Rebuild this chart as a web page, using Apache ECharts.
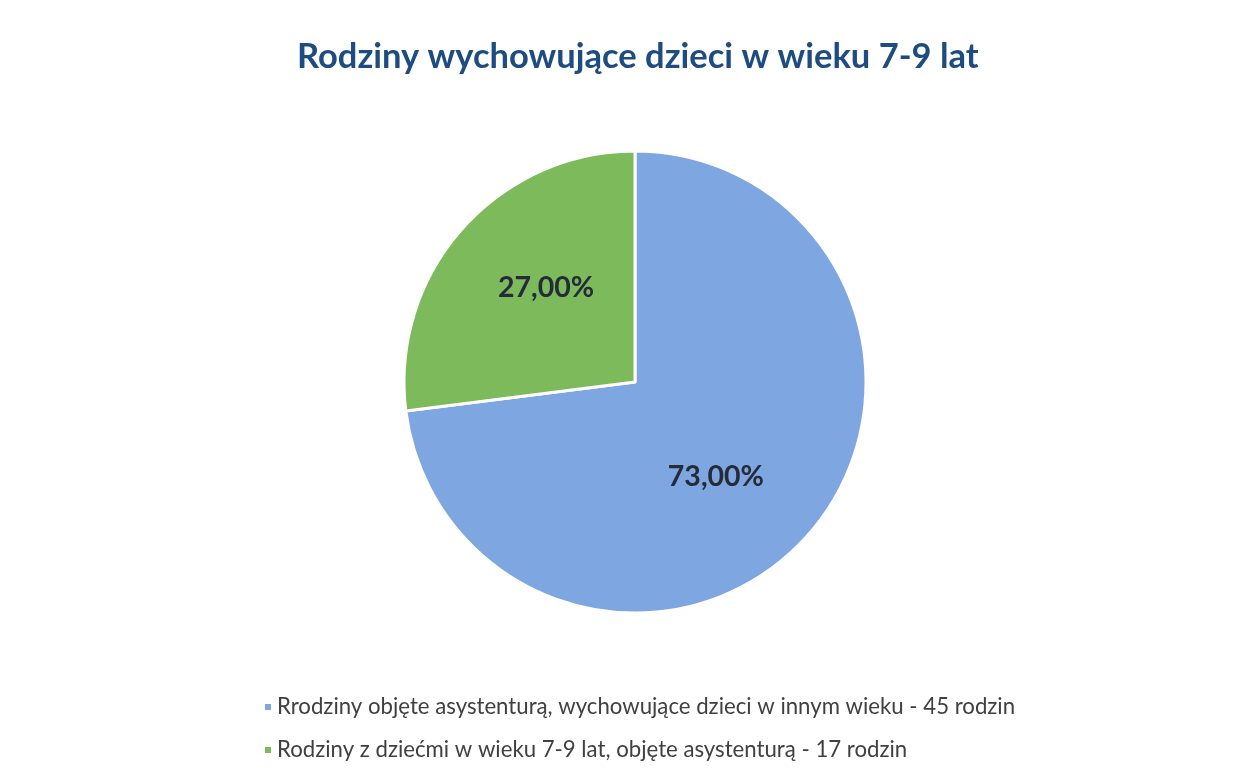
<!DOCTYPE html>
<html>
<head>
<meta charset="utf-8">
<title>Rodziny wychowujące dzieci w wieku 7-9 lat</title>
<script src="https://cdn.jsdelivr.net/npm/echarts@6/dist/echarts.min.js"></script>
<style>
  html, body { margin: 0; padding: 0; background: #fff; }
  #chart { width: 1243px; height: 778px; }
</style>
</head>
<body>
<div id="chart"></div>
<script>
// dane wykresu
const categories = [
  'Rrodziny objęte asystenturą, wychowujące dzieci w innym wieku - 45 rodzin',
  'Rodziny z dziećmi w wieku 7-9 lat, objęte asystenturą - 17 rodzin'
]
const shares = [73, 27]
const colors = ['#7ea6e0', '#7dba5b']

const pct = v => v.toFixed(2).replace('.', ',') + '%'

const chart = echarts.init(document.getElementById('chart'))

const option = {
  backgroundColor: '#ffffff',
  title: {
    text: 'Rodziny wychowujące dzieci w wieku 7-9 lat',
    left: 292,
    top: 34,
    textStyle: { fontFamily: 'Lato', fontWeight: 'bold', fontSize: 34.5, color: '#1f4c80' }
  },
  legend: {
    orient: 'vertical',
    left: 258,
    top: 691,
    itemWidth: 8,
    itemHeight: 8,
    itemGap: 21,
    icon: 'rect',
    textStyle: { fontFamily: 'Lato', fontSize: 22.2, color: '#404040' },
    data: categories
  },
  series: [{
    type: 'pie',
    center: [635, 382],
    radius: [0, 231],
    startAngle: 90,
    clockwise: true,
    avoidLabelOverlap: false,
    itemStyle: { borderColor: '#ffffff', borderWidth: 3 },
    label: {
      show: true,
      position: 'inside',
      // odstępy przesuwają etykiety tak jak w Excelu
      formatter: p => p.dataIndex === 0
        ? '{gap|}\n{v|' + pct(p.value) + '}{side|}'
        : '{v|' + pct(p.value) + '}\n{gap|}',
      rich: {
        v: { fontFamily: 'Lato', fontWeight: 'bold', fontSize: 28.5, color: '#262b3a' },
        gap: { height: 32, fontSize: 1 },
        side: { width: 16 }
      }
    },
    labelLine: { show: false },
    emphasis: { disabled: true },
    data: categories.map((name, i) => ({
      name,
      value: shares[i],
      itemStyle: { color: colors[i] }
    }))
  }]
}

chart.setOption(option)
window.addEventListener('resize', () => chart.resize())
</script>
</body>
</html>
